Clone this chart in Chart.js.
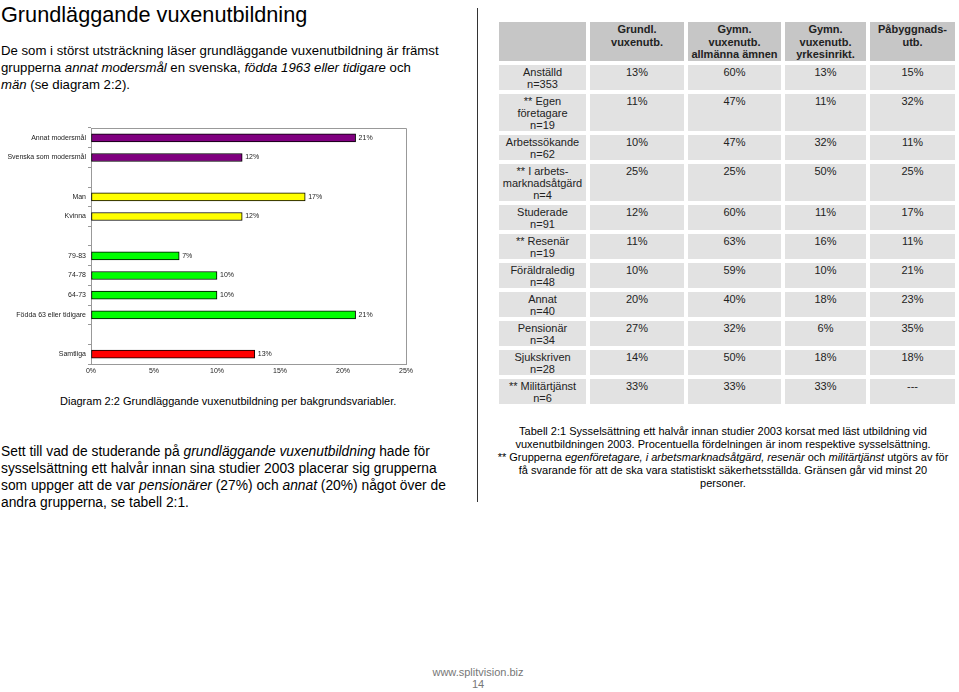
<!DOCTYPE html>
<html>
<head>
<meta charset="utf-8">
<script src="https://cdn.jsdelivr.net/npm/chart.js@4.4.0/dist/chart.umd.min.js"></script>
<style>
  body { margin: 0; background: #fff; font-family: "Liberation Sans", Arial, sans-serif; color: #000; }
  #page { position: relative; width: 959px; height: 692px; overflow: hidden; }
  .abs { position: absolute; white-space: nowrap; }
  #title { left: 1px; top: 2px; font-size: 21.7px; }
  #p1 { left: 1px; top: 42px; font-size: 13.2px; line-height: 17px; }
  #p2 { left: 1px; top: 443px; font-size: 13.8px; line-height: 17px; }
  #divider { left: 477px; top: 8px; width: 1px; height: 494px; background: #333; }
  #chartBox { left: 0; top: 118px; width: 420px; height: 265px; }
  #diaCap { left: 60px; top: 395px; font-size: 11px; }
  #tbl { position: absolute; left: 495px; top: 18px; border-collapse: separate; border-spacing: 4px; table-layout: fixed; font-size: 11px; color: #222; }
  #tbl td { background: #e2e2e2; text-align: center; vertical-align: top; padding: 1px 0 0 0; line-height: 12px; white-space: nowrap; }
  #tbl tr.head td { background: #c6c6c6; font-weight: bold; line-height: 12.5px; height: 37px; }
  #tabCap { left: 486px; top: 425px; width: 474px; text-align: center; font-size: 11px; line-height: 13px; }
  #foot { left: 380px; top: 666px; width: 196px; text-align: center; font-size: 11px; line-height: 12px; color: #777; }
</style>
</head>
<body>
<div id="page">
  <div id="title" class="abs">Grundläggande vuxenutbildning</div>
  <div id="p1" class="abs">De som i störst utsträckning läser grundläggande vuxenutbildning är främst<br>grupperna <i>annat modersmål</i> en svenska, <i>födda 1963 eller tidigare</i> och<br><i>män</i> (se diagram 2:2).</div>
  <div id="chartBox" class="abs"><canvas id="chart" width="420" height="265"></canvas></div>
  <div id="diaCap" class="abs">Diagram 2:2 Grundläggande vuxenutbildning per bakgrundsvariabler.</div>
  <div id="p2" class="abs">Sett till vad de studerande på <i>grundläggande vuxenutbildning</i> hade för<br>sysselsättning ett halvår innan sina studier 2003 placerar sig grupperna<br>som uppger att de var <i>pensionärer</i> (27%) och <i>annat</i> (20%) något över de<br>andra grupperna, se tabell 2:1.</div>
  <div id="divider" class="abs"></div>
  <table id="tbl">
    <colgroup><col style="width:87px"><col style="width:94px"><col style="width:93px"><col style="width:81px"><col style="width:85px"></colgroup>
    <tbody id="tbody"></tbody>
  </table>
  <div id="tabCap" class="abs">Tabell 2:1 Sysselsättning ett halvår innan studier 2003 korsat med läst utbildning vid<br>vuxenutbildningen 2003. Procentuella fördelningen är inom respektive sysselsättning.<br>** Grupperna <i>egenföretagare, i arbetsmarknadsåtgärd, resenär</i> och <i>militärtjänst</i> utgörs av för<br>få svarande för att de ska vara statistiskt säkerhetsställda. Gränsen går vid minst 20<br>personer.</div>
  <div id="foot" class="abs">www.splitvision.biz<br>14</div>
</div>
<script>
// diagram 2:2 data (blank labels are the gaps between groups)
const categories = ["Annat modersmål", "Svenska som modersmål", "", "Man", "Kvinna", "", "79-83", "74-78", "64-73", "Födda 63 eller tidigare", "", "Samtliga"];
const values = [21, 12, null, 17, 12, null, 7, 10, 10, 21, null, 13];
const barColors = ["#800080", "#800080", null, "#ffff00", "#ffff00", null, "#00ff00", "#00ff00", "#00ff00", "#00ff00", null, "#ff0000"];
const xTicks = [0, 5, 10, 15, 20, 25];

// tabell 2:1 data
const tableHeaders = ["", "Grundl.<br>vuxenutb.", "Gymn.<br>vuxenutb.<br>allmänna ämnen", "Gymn.<br>vuxenutb.<br>yrkesinrikt.", "Påbyggnads-<br>utb."];
const tableRows = ["Anställd<br>n=353", "** Egen<br>företagare<br>n=19", "Arbetssökande<br>n=62", "** I arbets-<br>marknadsåtgärd<br>n=4", "Studerade<br>n=91", "** Resenär<br>n=19", "Föräldraledig<br>n=48", "Annat<br>n=40", "Pensionär<br>n=34", "Sjukskriven<br>n=28", "** Militärtjänst<br>n=6"];
const grundl = [13, 11, 10, 25, 12, 11, 10, 20, 27, 14, 33];
const gymnAllm = [60, 47, 47, 25, 60, 63, 59, 40, 32, 50, 33];
const gymnYrkes = [13, 11, 32, 50, 11, 16, 10, 18, 6, 18, 33];
const pabygg = [15, 32, 11, 25, 17, 11, 21, 23, 35, 18, null];

// build the table
const tbody = document.getElementById("tbody");
let html = '<tr class="head">' + tableHeaders.map(h => "<td>" + h + "</td>").join("") + "</tr>";
const pct = v => (v === null ? "---" : v + "%");
tableRows.forEach((r, i) => {
  html += "<tr><td>" + r + "</td><td>" + pct(grundl[i]) + "</td><td>" + pct(gymnAllm[i]) +
    "</td><td>" + pct(gymnYrkes[i]) + "</td><td>" + pct(pabygg[i]) + "</td></tr>";
});
tbody.innerHTML = html;

//frame round the plot area (top and right edges)
const framePlugin = {
  id: "frame",
  beforeDatasetsDraw(chart) {
    const a = chart.chartArea, ctx = chart.ctx;
    ctx.save();
    ctx.strokeStyle = "#999";
    ctx.lineWidth = 1;
    ctx.beginPath();
    ctx.moveTo(Math.round(a.left) + 0.5, Math.round(a.top) + 0.5);
    ctx.lineTo(Math.round(a.right) + 0.5, Math.round(a.top) + 0.5);
    ctx.lineTo(Math.round(a.right) + 0.5, Math.round(a.bottom) + 0.5);
    ctx.stroke();
    ctx.restore();
  }
};

//value labels at the end of each bar
const labelPlugin = {
  id: "barLabels",
  afterDatasetsDraw(chart) {
    const ctx = chart.ctx;
    ctx.save();
    ctx.font = '7px "Liberation Sans", Arial, sans-serif';
    ctx.fillStyle = "#222";
    ctx.textBaseline = "middle";
    chart.getDatasetMeta(0).data.forEach((bar, i) => {
      if (values[i] === null) return;
      ctx.fillText(values[i] + "%", bar.x + 3, bar.y);
    });
    ctx.restore();
  }
};

new Chart(document.getElementById("chart"), {
  type: "bar",
  plugins: [framePlugin, labelPlugin],
  data: {
    labels: categories,
    datasets: [{
      data: values,
      backgroundColor: barColors,
      borderColor: "#000",
      borderWidth: 1,
      borderSkipped: false,
      barThickness: 8
    }]
  },
  options: {
    indexAxis: "y",
    responsive: false,
    animation: false,
    layout: { padding: { top: 10, right: 14, bottom: 7, left: 0 } },
    plugins: { legend: { display: false }, tooltip: { enabled: false } },
    scales: {
      x: {
        min: 0,
        max: 25,
        afterFit: s => { s.height = 12; },
        afterBuildTicks: s => { s.ticks = xTicks.map(v => ({ value: v })); },
        grid: { drawOnChartArea: false, drawTicks: false },
        border: { color: "#999" },
        ticks: {
          padding: 3,
          color: "#222",
          font: { size: 7, family: '"Liberation Sans", Arial, sans-serif' },
          callback: v => v + "%"
        }
      },
      y: {
        afterFit: s => { s.width = 91; },
        grid: { drawOnChartArea: false, tickLength: 3, color: "#999" },
        border: { color: "#999" },
        ticks: {
          padding: 2,
          color: "#222",
          autoSkip: false,
          font: { size: 7, family: '"Liberation Sans", Arial, sans-serif' }
        }
      }
    }
  }
});
</script>
</body>
</html>
